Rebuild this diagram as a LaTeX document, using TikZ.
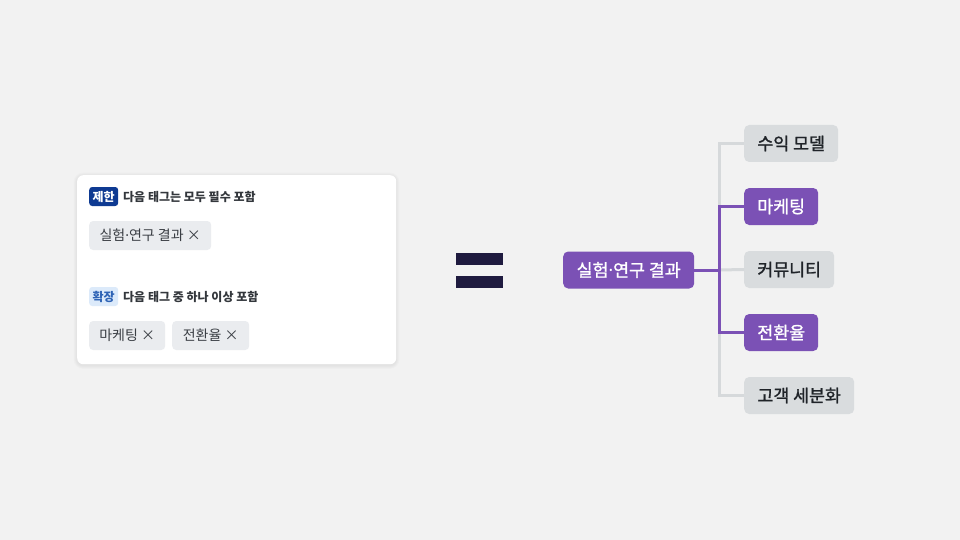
\documentclass[tikz,border=0pt]{standalone}
\usepackage{fontspec}
\setmainfont{Noto Sans CJK KR}
\newfontfamily\krmed{Noto Sans CJK KR}[FakeBold=1.3]
\newfontfamily\latinf{Noto Sans}
\newcommand{\mdot}{{\latinf ·}}
\definecolor{bgc}{HTML}{F2F2F2}
\definecolor{purp}{HTML}{7B51B5}
\definecolor{gnode}{HTML}{D9DCDE}
\definecolor{gline}{HTML}{D6D9DB}
\definecolor{dtext}{HTML}{1F2328}
\definecolor{tagfill}{HTML}{EAECEF}
\definecolor{tagtext}{HTML}{3A3E44}
\definecolor{badgedark}{HTML}{0E3A92}
\definecolor{badgelight}{HTML}{DCEAFA}
\definecolor{badgeltext}{HTML}{2E63B5}
\definecolor{eqc}{HTML}{1F1B3F}
\definecolor{hdtext}{HTML}{33373C}
\tikzset{
  treenode/.style={rounded corners=5pt, minimum height=37pt, inner sep=0pt, anchor=west,
    font=\krmed\fontsize{17.3}{19}\selectfont},
  pnode/.style={treenode, fill=purp, text=white},
  gnodes/.style={treenode, fill=gnode, text=dtext},
  tagbox/.style={rounded corners=4pt, fill=tagfill, text=tagtext, minimum height=29pt, inner sep=0pt,
    anchor=west, font=\fontsize{14}{16}\selectfont},
  badge/.style={rounded corners=3pt, minimum width=29pt, minimum height=19pt, inner sep=0pt, anchor=west,
    font=\bfseries\fontsize{12}{14}\selectfont},
  hdr/.style={anchor=west, inner sep=0pt, text=hdtext, font=\bfseries\fontsize{12}{14}\selectfont},
  gl/.style={draw=gline, line width=3pt},
  pl/.style={draw=purp, line width=3pt},
  eqbar/.style={fill=eqc, draw=none, minimum width=47pt, minimum height=12pt, inner sep=0pt}
}
\begin{document}
\begin{tikzpicture}[x=1pt,y=-1pt]
\fill[bgc] (0,0) rectangle (960,540);
\useasboundingbox (0,0) rectangle (960,540);
% card shadow
\foreach \i in {1,...,5}{
  \fill[black, opacity=0.011, rounded corners=6pt+\i*0.7pt] (77-\i*0.7,175-\i*0.7+1) rectangle (396+\i*0.7,364+\i*0.7+1.5);
}
% card
\node[fill=white, rounded corners=6pt, minimum width=319pt, minimum height=189pt, inner sep=0pt, anchor=north west]
  (card) at (77,175) {};
\node[badge, fill=badgedark, text=white] (b1) at (89,196.5) {제한};
\node[hdr] (h1) at (123,196.5) {다음 태그는 모두 필수 포함};
\node[tagbox, minimum width=122pt] (t1) at (89,235.5) {실험\mdot 연구 결과 ×};
\node[badge, fill=badgelight, text=badgeltext] (b2) at (89,296.5) {확장};
\node[hdr] (h2) at (123,296.5) {다음 태그 중 하나 이상 포함};
\node[tagbox, minimum width=76pt] (t2) at (89,335.5) {마케팅 ×};
\node[tagbox, minimum width=77pt] (t3) at (172,335.5) {전환율 ×};
% equals
\node[eqbar] (eq1) at (479.5,259) {};
\node[eqbar] (eq2) at (479.5,282) {};
% tree
\node[pnode, minimum width=131pt] (root) at (563,270) {실험\mdot 연구 결과};
\node[gnodes, minimum width=94pt] (c1) at (744,143.5) {수익 모델};
\node[pnode, minimum width=74pt] (c2) at (744,206.5) {마케팅};
\node[gnodes, minimum width=90pt] (c3) at (744,269.5) {커뮤니티};
\node[pnode, minimum width=74pt] (c4) at (744,332.5) {전환율};
\node[gnodes, minimum width=110pt] (c5) at (744,395.5) {고객 세분화};
\coordinate (j) at (719,270);
\draw[gl] (j) |- (c1.west);
\draw[gl] (j) |- (c5.west);
\draw[gl] (j) -- (c3.west);
\draw[pl] (root.east) -- (j);
\draw[pl] (j) |- (c2.west);
\draw[pl] (j) |- (c4.west);
\end{tikzpicture}
\end{document}
